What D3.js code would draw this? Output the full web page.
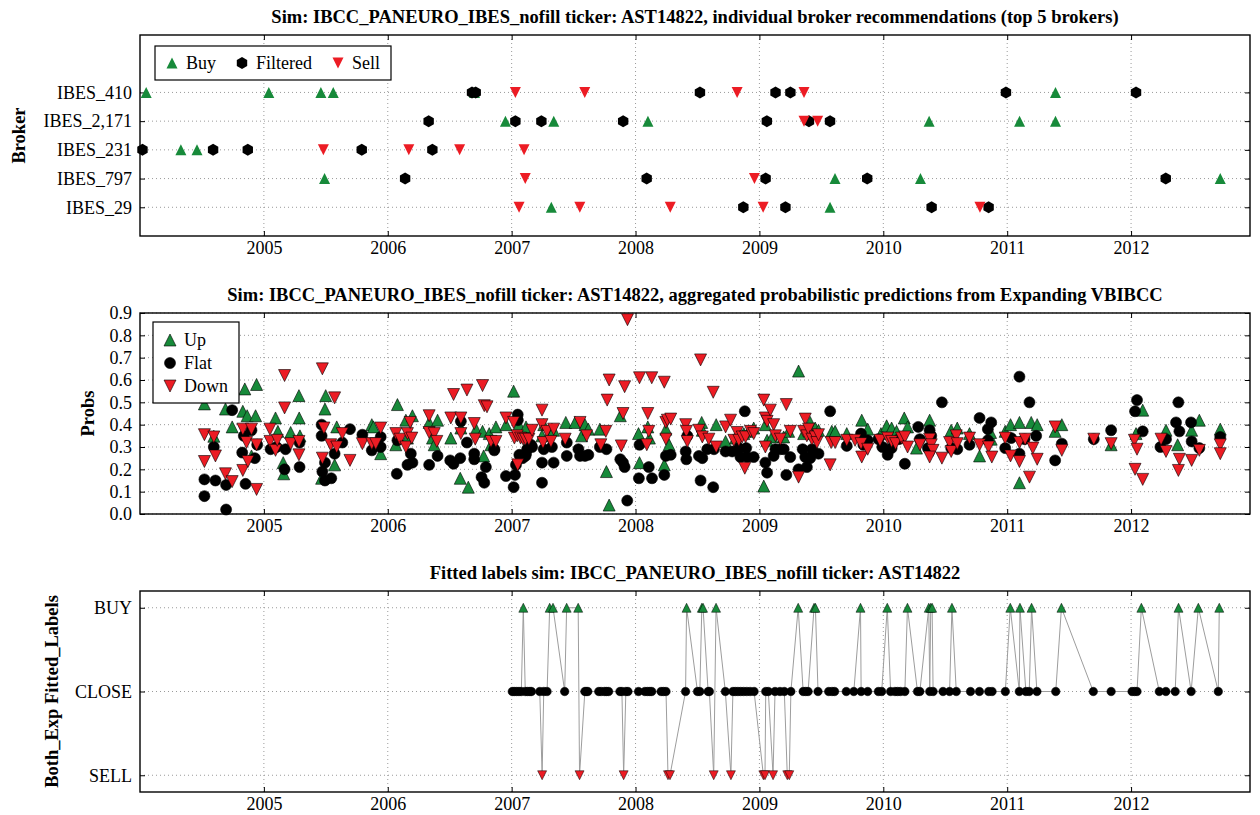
<!DOCTYPE html>
<html>
<head>
<meta charset="utf-8">
<script src="https://cdn.jsdelivr.net/npm/d3@7"></script>
<style>
  body { margin: 0; background: #fff; }
  text { font-family: "Liberation Serif", "Times New Roman", serif; fill: #000; }
</style>
</head>
<body>
<svg id="chart" width="1260" height="815"></svg>
<script>
// ---------- data ----------
const years = [2005, 2006, 2007, 2008, 2009, 2010, 2011, 2012];
const xDomain = [2004.0, 2012.96];

// top panel: broker recommendations [decimal year, broker]
const brokers = ["IBES_29", "IBES_797", "IBES_231", "IBES_2,171", "IBES_410"];
const buyRecs = [
  [2004.05, "IBES_410"], [2005.04, "IBES_410"], [2005.46, "IBES_410"], [2005.56, "IBES_410"], [2006.70, "IBES_410"], [2011.39, "IBES_410"],
  [2006.95, "IBES_2,171"], [2007.34, "IBES_2,171"], [2008.10, "IBES_2,171"], [2010.37, "IBES_2,171"], [2011.10, "IBES_2,171"], [2011.39, "IBES_2,171"],
  [2004.33, "IBES_231"], [2004.46, "IBES_231"],
  [2005.49, "IBES_797"], [2009.61, "IBES_797"], [2010.30, "IBES_797"], [2012.72, "IBES_797"],
  [2007.32, "IBES_29"], [2009.57, "IBES_29"]
];
const filteredRecs = [
  [2006.68, "IBES_410"], [2006.71, "IBES_410"], [2008.52, "IBES_410"], [2009.13, "IBES_410"], [2009.25, "IBES_410"], [2010.99, "IBES_410"], [2012.04, "IBES_410"],
  [2006.33, "IBES_2,171"], [2007.03, "IBES_2,171"], [2007.24, "IBES_2,171"], [2007.90, "IBES_2,171"], [2009.06, "IBES_2,171"], [2009.40, "IBES_2,171"], [2009.57, "IBES_2,171"],
  [2004.02, "IBES_231"], [2004.59, "IBES_231"], [2004.87, "IBES_231"], [2005.79, "IBES_231"], [2006.36, "IBES_231"],
  [2006.14, "IBES_797"], [2008.09, "IBES_797"], [2009.05, "IBES_797"], [2009.87, "IBES_797"], [2012.28, "IBES_797"],
  [2008.87, "IBES_29"], [2009.21, "IBES_29"], [2010.39, "IBES_29"], [2010.85, "IBES_29"]
];
const sellRecs = [
  [2007.03, "IBES_410"], [2007.59, "IBES_410"], [2008.82, "IBES_410"], [2009.36, "IBES_410"],
  [2009.36, "IBES_2,171"], [2009.47, "IBES_2,171"],
  [2005.48, "IBES_231"], [2006.17, "IBES_231"], [2006.58, "IBES_231"], [2007.10, "IBES_231"],
  [2007.11, "IBES_797"], [2008.96, "IBES_797"],
  [2007.06, "IBES_29"], [2007.55, "IBES_29"], [2008.28, "IBES_29"], [2009.03, "IBES_29"], [2010.78, "IBES_29"]
];

// middle panel: aggregated probabilities [decimal year, prob]
const probTicks = [0, 0.1, 0.2, 0.3, 0.4, 0.5, 0.6, 0.7, 0.8, 0.9];
const upProbs = [
  [2004.520, 0.493], [2004.596, 0.348], [2004.690, 0.47], [2004.744, 0.39], [2004.830, 0.46], [2004.846, 0.56], [2004.865, 0.44], [2004.900, 0.26], [2004.933, 0.44], [2004.941, 0.58],
  [2005.094, 0.43], [2005.113, 0.37], [2005.156, 0.23], [2005.160, 0.18], [2005.216, 0.365], [2005.283, 0.53], [2005.285, 0.43], [2005.291, 0.35],
  [2005.493, 0.47], [2005.499, 0.53], [2005.588, 0.39], [2005.571, 0.22], [2005.466, 0.16],
  [2005.871, 0.40], [2005.884, 0.39], [2005.943, 0.27],
  [2006.078, 0.49], [2006.065, 0.31], [2006.146, 0.42], [2006.199, 0.44], [2006.159, 0.34],
  [2006.334, 0.41], [2006.402, 0.42], [2006.361, 0.34], [2006.375, 0.31],
  [2006.509, 0.34], [2006.590, 0.385], [2006.585, 0.16], [2006.650, 0.12],
  [2006.712, 0.38], [2006.765, 0.37], [2006.774, 0.26], [2006.819, 0.36], [2006.833, 0.31], [2006.873, 0.39], [2006.954, 0.40],
  [2007.016, 0.55], [2007.049, 0.38], [2007.059, 0.40], [2007.116, 0.39], [2007.245, 0.35], [2007.259, 0.40], [2007.325, 0.38], [2007.339, 0.375],
  [2007.437, 0.41], [2007.512, 0.41], [2007.565, 0.35], [2007.592, 0.40], [2007.619, 0.38], [2007.712, 0.38], [2007.765, 0.19], [2007.787, 0.04],
  [2007.877, 0.44], [2008.024, 0.36], [2008.032, 0.23], [2008.099, 0.39], [2008.112, 0.34], [2008.232, 0.22], [2008.245, 0.38], [2008.271, 0.31],
  [2008.534, 0.41], [2008.539, 0.375], [2008.651, 0.40], [2008.727, 0.325], [2008.807, 0.34], [2008.874, 0.36], [2008.914, 0.37], [2008.954, 0.385],
  [2009.035, 0.125], [2009.048, 0.40], [2009.062, 0.33], [2009.102, 0.345], [2009.196, 0.345], [2009.236, 0.37], [2009.316, 0.64], [2009.357, 0.36],
  [2009.410, 0.41], [2009.450, 0.385], [2009.477, 0.375], [2009.584, 0.37], [2009.611, 0.37], [2009.705, 0.36], [2009.826, 0.42], [2009.874, 0.38],
  [2009.981, 0.36], [2010.027, 0.395], [2010.067, 0.385], [2010.107, 0.37], [2010.169, 0.43], [2010.196, 0.39], [2010.268, 0.295],
  [2010.374, 0.42], [2010.548, 0.375], [2010.597, 0.385], [2010.696, 0.36], [2010.777, 0.26], [2010.871, 0.335], [2010.866, 0.365],
  [2010.984, 0.37], [2011.027, 0.40], [2011.099, 0.41], [2011.099, 0.14], [2011.194, 0.41], [2011.242, 0.40], [2011.387, 0.37], [2011.441, 0.40],
  [2011.839, 0.31], [2012.094, 0.465], [2012.040, 0.36], [2012.282, 0.375], [2012.376, 0.31], [2012.489, 0.375], [2012.551, 0.42], [2012.720, 0.38]
];
const flatProbs = [
  [2004.520, 0.08], [2004.520, 0.155], [2004.596, 0.30], [2004.609, 0.15], [2004.695, 0.13], [2004.695, 0.02], [2004.744, 0.465], [2004.825, 0.275],
  [2004.838, 0.35], [2004.852, 0.135], [2004.900, 0.375], [2004.927, 0.25], [2004.946, 0.31],
  [2005.054, 0.29], [2005.102, 0.30], [2005.167, 0.20], [2005.175, 0.29], [2005.288, 0.32], [2005.288, 0.21],
  [2005.466, 0.40], [2005.466, 0.35], [2005.472, 0.19], [2005.493, 0.23], [2005.493, 0.15], [2005.544, 0.16], [2005.571, 0.27], [2005.633, 0.32], [2005.695, 0.38],
  [2005.795, 0.355], [2005.871, 0.285], [2005.943, 0.345], [2005.943, 0.30],
  [2006.073, 0.18], [2006.078, 0.33], [2006.159, 0.22], [2006.186, 0.27], [2006.199, 0.23],
  [2006.334, 0.22], [2006.402, 0.26], [2006.504, 0.24], [2006.531, 0.225], [2006.585, 0.25], [2006.590, 0.415], [2006.639, 0.32], [2006.698, 0.245],
  [2006.698, 0.27], [2006.757, 0.165], [2006.779, 0.14], [2006.792, 0.21], [2006.860, 0.29], [2006.860, 0.285],
  [2006.954, 0.17], [2007.016, 0.12], [2007.027, 0.175], [2007.035, 0.22], [2007.049, 0.445], [2007.050, 0.42], [2007.062, 0.265], [2007.089, 0.25],
  [2007.116, 0.27], [2007.156, 0.31], [2007.072, 0.26], [2007.112, 0.26], [2007.125, 0.29], [2007.165, 0.30], [2007.245, 0.23], [2007.245, 0.14],
  [2007.259, 0.29], [2007.325, 0.30], [2007.339, 0.23], [2007.445, 0.26], [2007.445, 0.32], [2007.539, 0.29], [2007.552, 0.26], [2007.592, 0.26],
  [2007.619, 0.265], [2007.712, 0.30], [2007.765, 0.29], [2007.877, 0.245], [2007.899, 0.23], [2007.912, 0.21], [2007.933, 0.06], [2008.027, 0.16],
  [2008.032, 0.31], [2008.107, 0.21], [2008.133, 0.16], [2008.232, 0.175], [2008.245, 0.26],
  [2008.284, 0.265], [2008.405, 0.28], [2008.410, 0.245], [2008.418, 0.35], [2008.512, 0.26], [2008.539, 0.25], [2008.579, 0.29], [2008.633, 0.29],
  [2008.525, 0.15], [2008.627, 0.12], [2008.727, 0.28], [2008.780, 0.28], [2008.834, 0.295], [2008.847, 0.255], [2008.882, 0.46], [2008.893, 0.295],
  [2008.901, 0.255], [2008.954, 0.255], [2009.048, 0.23], [2009.062, 0.185], [2009.115, 0.26], [2009.129, 0.29], [2009.169, 0.29], [2009.196, 0.29],
  [2009.217, 0.175], [2009.249, 0.255], [2009.316, 0.20], [2009.349, 0.29], [2009.370, 0.255], [2009.383, 0.21], [2009.410, 0.25], [2009.424, 0.29],
  [2009.477, 0.27], [2009.571, 0.46], [2009.705, 0.305], [2009.820, 0.36], [2009.839, 0.31], [2009.874, 0.33], [2009.960, 0.335], [2009.992, 0.30],
  [2010.035, 0.265], [2010.067, 0.295], [2010.126, 0.335], [2010.174, 0.225], [2010.282, 0.39], [2010.295, 0.335],
  [2010.360, 0.295], [2010.374, 0.375], [2010.387, 0.35], [2010.473, 0.50], [2010.548, 0.295], [2010.597, 0.29], [2010.696, 0.31], [2010.777, 0.43],
  [2010.844, 0.38], [2010.871, 0.41], [2010.844, 0.33], [2010.984, 0.295], [2011.032, 0.34], [2011.099, 0.615], [2011.099, 0.27], [2011.140, 0.335],
  [2011.180, 0.50], [2011.234, 0.35], [2011.387, 0.24], [2011.441, 0.315], [2011.699, 0.335], [2011.839, 0.375], [2012.048, 0.51], [2012.032, 0.46],
  [2012.094, 0.37], [2012.237, 0.30], [2012.282, 0.335], [2012.382, 0.50], [2012.390, 0.37], [2012.363, 0.41], [2012.484, 0.41], [2012.489, 0.325],
  [2012.551, 0.295], [2012.720, 0.345]
];
const downProbs = [
  [2004.520, 0.355], [2004.520, 0.235], [2004.596, 0.345], [2004.609, 0.26], [2004.690, 0.18], [2004.744, 0.145], [2004.830, 0.38], [2004.830, 0.195],
  [2004.860, 0.32], [2004.871, 0.235], [2004.900, 0.38], [2004.941, 0.11], [2004.941, 0.31],
  [2005.049, 0.38], [2005.049, 0.325], [2005.094, 0.285], [2005.108, 0.33], [2005.167, 0.62], [2005.167, 0.475], [2005.216, 0.315], [2005.283, 0.325], [2005.283, 0.265],
  [2005.472, 0.65], [2005.472, 0.25], [2005.485, 0.385], [2005.571, 0.52], [2005.539, 0.31], [2005.588, 0.30], [2005.633, 0.36], [2005.695, 0.24],
  [2005.795, 0.315], [2005.871, 0.315], [2005.903, 0.315], [2005.943, 0.385],
  [2006.065, 0.36], [2006.100, 0.335], [2006.146, 0.30], [2006.159, 0.36], [2006.181, 0.41], [2006.194, 0.34],
  [2006.334, 0.44], [2006.334, 0.365], [2006.375, 0.36], [2006.396, 0.325],
  [2006.509, 0.43], [2006.531, 0.535], [2006.590, 0.43], [2006.590, 0.36], [2006.639, 0.555], [2006.698, 0.405], [2006.706, 0.335], [2006.765, 0.575],
  [2006.779, 0.485], [2006.801, 0.48], [2006.833, 0.325], [2006.873, 0.325], [2006.954, 0.43],
  [2007.016, 0.41], [2007.022, 0.34], [2007.049, 0.22], [2007.045, 0.35], [2007.072, 0.34], [2007.093, 0.335], [2007.112, 0.335], [2007.139, 0.335],
  [2007.165, 0.375], [2007.245, 0.465], [2007.245, 0.40], [2007.253, 0.32], [2007.285, 0.37], [2007.317, 0.325], [2007.339, 0.38], [2007.432, 0.335],
  [2007.552, 0.41], [2007.605, 0.35], [2007.720, 0.31], [2007.760, 0.37], [2007.771, 0.51], [2007.787, 0.60], [2007.885, 0.305], [2007.899, 0.45],
  [2007.912, 0.57], [2007.935, 0.87], [2008.032, 0.61], [2008.099, 0.45], [2008.107, 0.37], [2008.091, 0.31], [2008.131, 0.61], [2008.232, 0.59],
  [2008.245, 0.41], [2008.245, 0.335],
  [2008.257, 0.42], [2008.284, 0.425], [2008.405, 0.40], [2008.410, 0.37], [2008.418, 0.325], [2008.512, 0.375], [2008.525, 0.69], [2008.539, 0.345],
  [2008.592, 0.335], [2008.627, 0.545], [2008.651, 0.30], [2008.727, 0.39], [2008.767, 0.42], [2008.794, 0.33], [2008.820, 0.365], [2008.834, 0.33],
  [2008.861, 0.345], [2008.882, 0.205], [2008.888, 0.345], [2008.928, 0.37], [2008.954, 0.36], [2009.035, 0.51], [2009.048, 0.43], [2009.062, 0.415],
  [2009.088, 0.465], [2009.048, 0.30], [2009.115, 0.40], [2009.129, 0.35], [2009.169, 0.335], [2009.217, 0.49], [2009.249, 0.37], [2009.316, 0.165],
  [2009.357, 0.37], [2009.370, 0.425], [2009.383, 0.35], [2009.397, 0.38], [2009.424, 0.335], [2009.450, 0.345], [2009.464, 0.32], [2009.477, 0.355],
  [2009.571, 0.22], [2009.579, 0.32], [2009.611, 0.32], [2009.705, 0.33], [2009.772, 0.33], [2009.820, 0.315], [2009.826, 0.255], [2009.874, 0.29],
  [2009.973, 0.33], [2010.035, 0.34], [2010.067, 0.325], [2010.099, 0.315], [2010.147, 0.34], [2010.174, 0.345], [2010.196, 0.30], [2010.295, 0.31],
  [2010.374, 0.335], [2010.387, 0.31], [2010.401, 0.285], [2010.374, 0.255], [2010.473, 0.25], [2010.535, 0.32], [2010.548, 0.28], [2010.589, 0.35],
  [2010.597, 0.315], [2010.696, 0.34], [2010.777, 0.31], [2010.849, 0.30], [2010.876, 0.255], [2010.984, 0.34], [2011.027, 0.26], [2011.099, 0.32],
  [2011.099, 0.235], [2011.145, 0.335], [2011.180, 0.165], [2011.207, 0.295], [2011.242, 0.245], [2011.387, 0.39], [2011.441, 0.285], [2011.699, 0.335],
  [2011.839, 0.315], [2012.027, 0.33], [2012.048, 0.29], [2012.032, 0.20], [2012.094, 0.155], [2012.242, 0.335], [2012.282, 0.28], [2012.390, 0.245],
  [2012.382, 0.195], [2012.489, 0.24], [2012.551, 0.285], [2012.720, 0.31], [2012.720, 0.27]
];

// bottom panel: fitted labels in time order [decimal year, label]
const labelNames = ["SELL", "CLOSE", "BUY"];
const fittedLabels = [
  [2007.005, "CLOSE"], [2007.021, "CLOSE"], [2007.040, "CLOSE"], [2007.059, "CLOSE"], [2007.078, "CLOSE"], [2007.094, "BUY"], [2007.110, "CLOSE"],
  [2007.128, "CLOSE"], [2007.147, "CLOSE"], [2007.160, "CLOSE"], [2007.227, "CLOSE"], [2007.246, "SELL"], [2007.259, "CLOSE"], [2007.286, "CLOSE"],
  [2007.307, "BUY"], [2007.334, "BUY"], [2007.428, "CLOSE"], [2007.444, "BUY"], [2007.537, "BUY"], [2007.548, "SELL"], [2007.591, "CLOSE"],
  [2007.602, "CLOSE"], [2007.615, "CLOSE"], [2007.703, "CLOSE"], [2007.722, "CLOSE"], [2007.749, "CLOSE"], [2007.765, "CLOSE"], [2007.783, "CLOSE"],
  [2007.874, "CLOSE"], [2007.890, "CLOSE"], [2007.904, "SELL"], [2007.922, "CLOSE"], [2007.939, "CLOSE"], [2008.024, "CLOSE"], [2008.075, "CLOSE"],
  [2008.096, "CLOSE"], [2008.115, "CLOSE"], [2008.131, "CLOSE"], [2008.206, "CLOSE"], [2008.225, "CLOSE"], [2008.246, "CLOSE"], [2008.262, "SELL"],
  [2008.278, "SELL"], [2008.404, "CLOSE"], [2008.412, "BUY"], [2008.500, "CLOSE"], [2008.519, "CLOSE"], [2008.535, "BUY"], [2008.545, "BUY"],
  [2008.586, "CLOSE"], [2008.596, "CLOSE"], [2008.631, "SELL"], [2008.650, "BUY"], [2008.725, "CLOSE"], [2008.770, "SELL"], [2008.786, "CLOSE"],
  [2008.805, "CLOSE"], [2008.826, "CLOSE"], [2008.848, "CLOSE"], [2008.872, "CLOSE"], [2008.898, "CLOSE"], [2008.925, "CLOSE"], [2008.957, "CLOSE"],
  [2009.032, "SELL"], [2009.045, "SELL"], [2009.051, "CLOSE"], [2009.072, "CLOSE"], [2009.110, "SELL"], [2009.126, "CLOSE"], [2009.166, "CLOSE"],
  [2009.201, "CLOSE"], [2009.225, "SELL"], [2009.241, "SELL"], [2009.254, "CLOSE"], [2009.313, "BUY"], [2009.353, "CLOSE"], [2009.374, "CLOSE"],
  [2009.393, "CLOSE"], [2009.441, "BUY"], [2009.452, "BUY"], [2009.473, "CLOSE"], [2009.559, "CLOSE"], [2009.586, "CLOSE"], [2009.607, "CLOSE"],
  [2009.701, "CLOSE"], [2009.762, "CLOSE"], [2009.816, "BUY"], [2009.821, "CLOSE"], [2009.874, "CLOSE"], [2009.960, "CLOSE"], [2009.987, "CLOSE"],
  [2010.032, "BUY"], [2010.059, "CLOSE"], [2010.094, "CLOSE"], [2010.115, "CLOSE"], [2010.139, "CLOSE"], [2010.174, "CLOSE"], [2010.195, "BUY"],
  [2010.276, "CLOSE"], [2010.295, "CLOSE"], [2010.367, "BUY"], [2010.375, "CLOSE"], [2010.383, "BUY"], [2010.394, "BUY"], [2010.402, "CLOSE"],
  [2010.482, "CLOSE"], [2010.535, "CLOSE"], [2010.554, "BUY"], [2010.589, "CLOSE"], [2010.704, "CLOSE"], [2010.776, "CLOSE"], [2010.851, "CLOSE"],
  [2010.878, "CLOSE"], [2010.985, "CLOSE"], [2011.025, "BUY"], [2011.098, "CLOSE"], [2011.103, "BUY"], [2011.151, "CLOSE"], [2011.178, "CLOSE"],
  [2011.197, "BUY"], [2011.240, "CLOSE"], [2011.392, "CLOSE"], [2011.438, "BUY"], [2011.695, "CLOSE"], [2011.839, "CLOSE"], [2012.008, "CLOSE"],
  [2012.029, "CLOSE"], [2012.048, "CLOSE"], [2012.083, "BUY"], [2012.228, "CLOSE"], [2012.281, "CLOSE"], [2012.356, "CLOSE"], [2012.383, "BUY"],
  [2012.485, "CLOSE"], [2012.543, "BUY"], [2012.704, "CLOSE"], [2012.712, "BUY"]
];

// ---------- layout ----------
const GREEN = "#178a3a";
const RED = "#ec1c24";
const plotLeft = 140, plotRight = 1250, panelH = 201;
const panelTops = [35, 313, 591];

const svg = d3.select("#chart");
const x = d3.scaleLinear().domain(xDomain).range([plotLeft, plotRight]);

// marker path generators (centred like matplotlib markers)
function triangle(size, down) {
  const h = size / 2, s = down ? -1 : 1;
  return `M0,${-h * s}L${-h},${h * s}L${h},${h * s}Z`;
}
function hexagon(size) {
  const r = size / 2;
  const pts = d3.range(6).map(i => {
    const a = -Math.PI / 2 + i * Math.PI / 3;
    return [r * Math.cos(a), r * Math.sin(a)];
  });
  return "M" + pts.join("L") + "Z";
}
function circle(size) {
  const r = size / 2;
  return `M${-r},0A${r},${r} 0 1,0 ${r},0A${r},${r} 0 1,0 ${-r},0Z`;
}

// frame, grid, inward ticks, labels and title for one panel
function drawPanel(top, y, yTicks, yFormat, title, yTitle, yTitleX) {
  const bottom = top + panelH;
  const g = svg.append("g");

  // dotted grid
  g.append("g").selectAll("line").data(years).join("line")
    .attr("x1", d => x(d)).attr("x2", d => x(d))
    .attr("y1", top).attr("y2", bottom)
    .attr("stroke", "#9a9a9a").attr("stroke-width", 1).attr("stroke-dasharray", "1,3");
  g.append("g").selectAll("line").data(yTicks).join("line")
    .attr("x1", plotLeft).attr("x2", plotRight)
    .attr("y1", d => y(d)).attr("y2", d => y(d))
    .attr("stroke", "#9a9a9a").attr("stroke-width", 1).attr("stroke-dasharray", "1,3");

  // axes with ticks pointing inside
  const axB = g.append("g").attr("transform", `translate(0,${bottom})`)
    .call(d3.axisBottom(x).tickValues(years).tickFormat(d3.format("d")).tickSizeInner(-5).tickSizeOuter(0).tickPadding(5));
  const axT = g.append("g").attr("transform", `translate(0,${top})`)
    .call(d3.axisTop(x).tickValues(years).tickFormat("").tickSizeInner(-5).tickSizeOuter(0));
  const axL = g.append("g").attr("transform", `translate(${plotLeft},0)`)
    .call(d3.axisLeft(y).tickValues(yTicks).tickFormat(yFormat).tickSizeInner(-5).tickSizeOuter(0).tickPadding(8));
  const axR = g.append("g").attr("transform", `translate(${plotRight},0)`)
    .call(d3.axisRight(y).tickValues(yTicks).tickFormat("").tickSizeInner(-5).tickSizeOuter(0));
  [axB, axT, axL, axR].forEach(a => {
    a.select(".domain").remove();
    a.selectAll("line").attr("stroke", "#000");
    a.selectAll("text").attr("font-size", 18).attr("font-family", "Liberation Serif");
  });

  // frame
  g.append("rect")
    .attr("x", plotLeft).attr("y", top)
    .attr("width", plotRight - plotLeft).attr("height", panelH)
    .attr("fill", "none").attr("stroke", "#000").attr("stroke-width", 1.4);

  // title
  g.append("text")
    .attr("x", (plotLeft + plotRight) / 2).attr("y", top - 12)
    .attr("text-anchor", "middle")
    .attr("font-size", 18.5).attr("font-weight", "bold")
    .text(title);

  // y label
  g.append("text")
    .attr("transform", `translate(${yTitleX},${top + panelH / 2}) rotate(-90)`)
    .attr("text-anchor", "middle").attr("dy", "0.35em")
    .attr("font-size", 18.5).attr("font-weight", "bold")
    .text(yTitle);

  return g;
}

function drawLegend(items, bx, by, bw, bh) {
  const lg = svg.append("g");
  lg.append("rect")
    .attr("x", bx).attr("y", by).attr("width", bw).attr("height", bh)
    .attr("fill", "#fff").attr("stroke", "#000").attr("stroke-width", 1.2);
  items.forEach(it => {
    lg.append("path")
      .attr("transform", `translate(${it.mx},${it.my})`)
      .attr("d", it.path).attr("fill", it.fill)
      .attr("stroke", it.stroke || "none").attr("stroke-width", 0.6);
    lg.append("text")
      .attr("x", it.mx + 14).attr("y", it.my).attr("dy", "0.35em")
      .attr("font-size", 18)
      .text(it.label);
  });
}

// ---------- panel 1: broker recommendations ----------
const yBroker = d3.scaleLinear().domain([-1, 6]).range([panelTops[0] + panelH, panelTops[0]]);
const brokerIdx = d3.range(brokers.length);
const p1 = drawPanel(panelTops[0], yBroker, brokerIdx, i => brokers[i],
  "Sim: IBCC_PANEURO_IBES_nofill ticker: AST14822, individual broker recommendations (top 5 brokers)",
  "Broker", 19);

const recY = d => yBroker(brokers.indexOf(d[1]));
p1.append("g").selectAll("path").data(buyRecs).join("path")
  .attr("transform", d => `translate(${x(d[0])},${recY(d)})`)
  .attr("d", triangle(11, false)).attr("fill", GREEN);
p1.append("g").selectAll("path").data(filteredRecs).join("path")
  .attr("transform", d => `translate(${x(d[0])},${recY(d)})`)
  .attr("d", hexagon(12)).attr("fill", "#000");
p1.append("g").selectAll("path").data(sellRecs).join("path")
  .attr("transform", d => `translate(${x(d[0])},${recY(d)})`)
  .attr("d", triangle(11, true)).attr("fill", RED);

drawLegend([
  { label: "Buy", path: triangle(11, false), fill: GREEN, mx: 172, my: 63 },
  { label: "Filtered", path: hexagon(12), fill: "#000", mx: 242, my: 63 },
  { label: "Sell", path: triangle(11, true), fill: RED, mx: 338, my: 63 }
], 155, 46, 236, 34);

// ---------- panel 2: aggregated probabilities ----------
const yProb = d3.scaleLinear().domain([0, 0.9]).range([panelTops[1] + panelH, panelTops[1]]);
const p2 = drawPanel(panelTops[1], yProb, probTicks, d3.format(".1f"),
  "Sim: IBCC_PANEURO_IBES_nofill ticker: AST14822, aggregated probabilistic predictions from Expanding VBIBCC",
  "Probs", 88);

const probSeries = [
  { data: upProbs, path: triangle(12, false), fill: GREEN },
  { data: flatProbs, path: circle(11), fill: "#000" },
  { data: downProbs, path: triangle(12, true), fill: RED }
];
probSeries.forEach(s => {
  p2.append("g").selectAll("path").data(s.data).join("path")
    .attr("transform", d => `translate(${x(d[0])},${yProb(d[1])})`)
    .attr("d", s.path).attr("fill", s.fill)
    .attr("stroke", "#000").attr("stroke-width", 0.6);
});

drawLegend([
  { label: "Up", path: triangle(12, false), fill: GREEN, stroke: "#000", mx: 170, my: 340 },
  { label: "Flat", path: circle(11), fill: "#000", stroke: "#000", mx: 170, my: 363 },
  { label: "Down", path: triangle(12, true), fill: RED, stroke: "#000", mx: 170, my: 386 }
], 153, 322, 86, 81);

// ---------- panel 3: fitted labels ----------
const yLabel = d3.scaleLinear().domain([-1.2, 1.2]).range([panelTops[2] + panelH, panelTops[2]]);
const labelVal = name => labelNames.indexOf(name) - 1;
const p3 = drawPanel(panelTops[2], yLabel, [-1, 0, 1], v => labelNames[v + 1],
  "Fitted labels sim: IBCC_PANEURO_IBES_nofill ticker: AST14822",
  "Both_Exp Fitted_Labels", 52);

const labelLine = d3.line().x(d => x(d[0])).y(d => yLabel(labelVal(d[1])));
p3.append("path").datum(fittedLabels)
  .attr("d", labelLine).attr("fill", "none")
  .attr("stroke", "#9d9d9d").attr("stroke-width", 1);

const labelStyle = {
  BUY: { path: triangle(9, false), fill: GREEN },
  CLOSE: { path: circle(8.5), fill: "#000" },
  SELL: { path: triangle(9, true), fill: RED }
};
p3.append("g").selectAll("path").data(fittedLabels).join("path")
  .attr("transform", d => `translate(${x(d[0])},${yLabel(labelVal(d[1]))})`)
  .attr("d", d => labelStyle[d[1]].path)
  .attr("fill", d => labelStyle[d[1]].fill)
  .attr("stroke", "#000").attr("stroke-width", 0.5);
</script>
</body>
</html>
